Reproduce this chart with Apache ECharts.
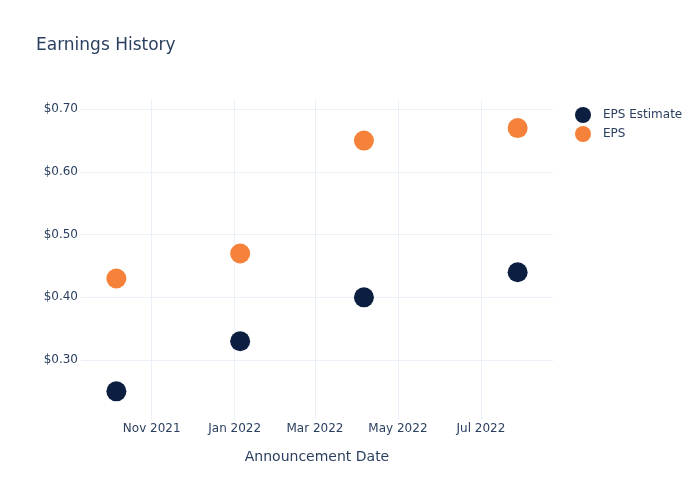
<!DOCTYPE html>
<html>
<head>
<meta charset="utf-8">
<script src="https://cdn.jsdelivr.net/npm/echarts@6/dist/echarts.min.js"></script>
<style>html,body{margin:0;padding:0;background:#fff}#c{width:700px;height:500px}</style>
</head>
<body>
<div id="c"></div>
<script>
const announcementDates = ['2021-10-06', '2022-01-05', '2022-04-06', '2022-07-28'];
const epsEstimate = [0.25, 0.33, 0.40, 0.44];
const epsActual = [0.43, 0.47, 0.65, 0.67];
const seriesNames = ['EPS Estimate', 'EPS'];
const monthNames = ['Jan','Feb','Mar','Apr','May','Jun','Jul','Aug','Sep','Oct','Nov','Dec'];

const textColor = '#2a3f5f';
const gridColor = '#ebf0f8';
const font = 'DejaVu Sans';
const DAY = 86400000;

const chart = echarts.init(document.getElementById('c'), null, {renderer: 'canvas'});
chart.setOption({
  backgroundColor: '#fff',
  animation: false,
  textStyle: {fontFamily: font},
  title: {
    text: 'Earnings History',
    left: 31, top: 32,
    textStyle: {fontFamily: font, fontSize: 17, fontWeight: 'normal', color: textColor}
  },
  legend: {
    orient: 'vertical',
    left: 570, top: 102,
    itemWidth: 30, itemHeight: 16, itemGap: 3,
    icon: 'circle',
    textStyle: {fontFamily: font, fontSize: 12, color: textColor},
    data: seriesNames
  },
  grid: {left: 81, right: 147, top: 100, bottom: 80},
  xAxis: {
    type: 'time',
    min: '2021-09-10', max: '2022-08-23',
    minInterval: 65 * DAY, maxInterval: 80 * DAY,
    name: 'Announcement Date',
    nameLocation: 'middle', nameGap: 30,
    nameTextStyle: {fontFamily: font, fontSize: 14, color: textColor},
    axisLine: {show: false}, axisTick: {show: false},
    axisLabel: {
      color: textColor, fontSize: 12, fontFamily: font, margin: 3,
      formatter: function (v) { const d = new Date(v); return monthNames[d.getMonth()] + ' ' + d.getFullYear(); }
    },
    splitLine: {show: true, showMinLine: false, showMaxLine: false, lineStyle: {color: gridColor, width: 1}}
  },
  yAxis: {
    type: 'value',
    min: 0.2043, max: 0.7148,
    splitNumber: 5,
    axisLine: {show: false}, axisTick: {show: false},
    axisLabel: {
      color: textColor, fontSize: 12, fontFamily: font, margin: 3,
      showMinLabel: false, showMaxLabel: false,
      formatter: function (v) { return '$' + v.toFixed(2); }
    },
    splitLine: {show: true, showMinLine: false, showMaxLine: false, lineStyle: {color: gridColor, width: 1}}
  },
  series: [
    {
      name: seriesNames[0], type: 'scatter', symbolSize: 20,
      itemStyle: {color: '#0c1f40', opacity: 1},
      data: announcementDates.map((d, i) => [d, epsEstimate[i]])
    },
    {
      name: seriesNames[1], type: 'scatter', symbolSize: 20,
      itemStyle: {color: '#f5813a', opacity: 1},
      data: announcementDates.map((d, i) => [d, epsActual[i]])
    }
  ]
});
</script>
</body>
</html>
